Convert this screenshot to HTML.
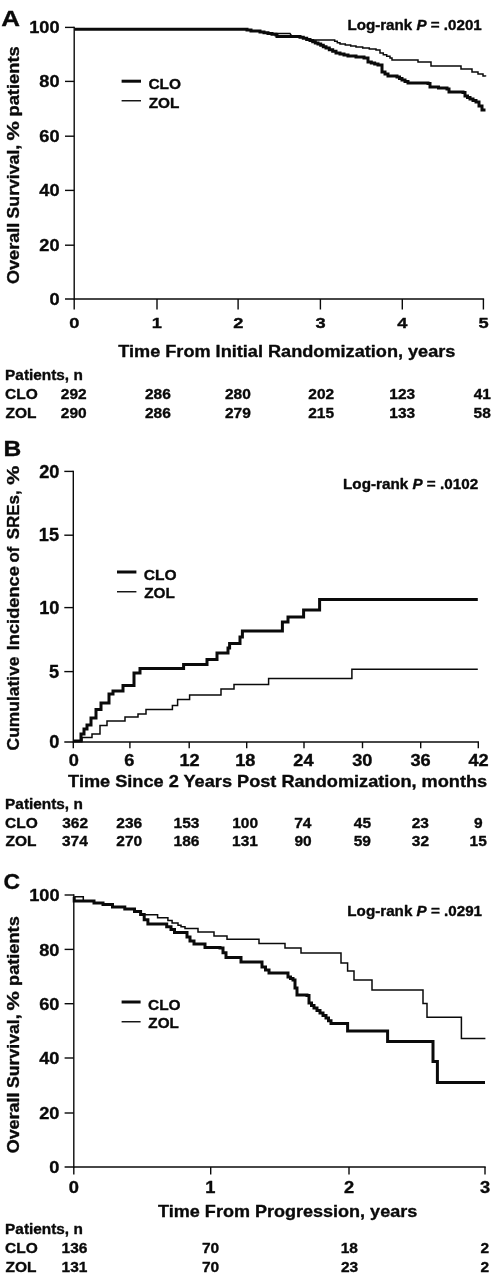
<!DOCTYPE html>
<html><head><meta charset="utf-8"><title>Figure</title>
<style>
html,body{margin:0;padding:0;background:#fff;}
svg{display:block;}
text{font-family:"Liberation Sans", Arial, Helvetica, sans-serif;font-weight:bold;fill:#0a0a0a;stroke:#0a0a0a;stroke-width:0.35;stroke-linejoin:round;}
line,path{stroke:#0a0a0a;}
</style></head><body>
<svg width="495" height="1280" viewBox="0 0 495 1280">
<rect width="495" height="1280" fill="#fff"/>
<line x1="74.20" y1="26.70" x2="74.20" y2="299.70" stroke-width="1.40"/>
<line x1="65.00" y1="299.00" x2="484.10" y2="299.00" stroke-width="1.40"/>
<line x1="65.00" y1="27.40" x2="74.20" y2="27.40" stroke-width="1.40"/>
<line x1="65.00" y1="81.40" x2="74.20" y2="81.40" stroke-width="1.40"/>
<line x1="65.00" y1="136.20" x2="74.20" y2="136.20" stroke-width="1.40"/>
<line x1="65.00" y1="190.40" x2="74.20" y2="190.40" stroke-width="1.40"/>
<line x1="65.00" y1="245.20" x2="74.20" y2="245.20" stroke-width="1.40"/>
<line x1="74.20" y1="299.00" x2="74.20" y2="309.50" stroke-width="1.40"/>
<line x1="157.00" y1="299.00" x2="157.00" y2="309.50" stroke-width="1.40"/>
<line x1="238.10" y1="299.00" x2="238.10" y2="309.50" stroke-width="1.40"/>
<line x1="320.40" y1="299.00" x2="320.40" y2="309.50" stroke-width="1.40"/>
<line x1="402.30" y1="299.00" x2="402.30" y2="309.50" stroke-width="1.40"/>
<line x1="483.40" y1="299.00" x2="483.40" y2="309.50" stroke-width="1.40"/>
<text transform="translate(1.35 26.00) scale(1.1946 1)" font-size="21.74">A</text>
<text transform="translate(29.22 33.23) scale(1.0617 1)" font-size="17.14">100</text>
<text transform="translate(39.33 87.23) scale(1.0617 1)" font-size="17.14">80</text>
<text transform="translate(39.33 142.03) scale(1.0617 1)" font-size="17.14">60</text>
<text transform="translate(39.33 196.23) scale(1.0617 1)" font-size="17.14">40</text>
<text transform="translate(39.33 251.03) scale(1.0617 1)" font-size="17.14">20</text>
<text transform="translate(49.43 304.83) scale(1.0617 1)" font-size="17.14">0</text>
<text transform="translate(69.32 328.15) scale(1.1861 1)" font-size="15.43">0</text>
<text transform="translate(151.80 328.15) scale(1.1861 1)" font-size="15.43">1</text>
<text transform="translate(233.27 328.15) scale(1.1861 1)" font-size="15.43">2</text>
<text transform="translate(315.61 328.15) scale(1.1861 1)" font-size="15.43">3</text>
<text transform="translate(397.33 328.15) scale(1.1861 1)" font-size="15.43">4</text>
<text transform="translate(478.48 328.15) scale(1.1861 1)" font-size="15.43">5</text>
<text transform="translate(118.22 356.50) scale(1.0704 1)" font-size="16.96">Time From Initial Randomization, years</text>
<text transform="translate(347.41 29.50) scale(1.1017 1)" font-size="13.77">Log-rank <tspan font-style="italic">P</tspan> = .0201</text>
<line x1="121.60" y1="81.20" x2="141.00" y2="81.20" stroke-width="3.00"/>
<line x1="121.60" y1="100.75" x2="141.00" y2="100.75" stroke-width="1.40"/>
<text transform="translate(148.38 88.70) scale(1.0464 1)" font-size="14.78">CLO</text>
<text transform="translate(148.74 107.50) scale(1.0599 1)" font-size="14.49">ZOL</text>
<text transform="translate(5.10 380.00) scale(1.0250 1)" font-size="15.00">Patients, n</text>
<text transform="translate(5.08 399.30) scale(1.0000 1)" font-size="15.50">CLO</text>
<text transform="translate(5.54 417.60) scale(1.0000 1)" font-size="15.50">ZOL</text>
<text transform="translate(60.84 399.30) scale(1.0000 1)" font-size="15.50">292</text>
<text transform="translate(60.84 417.60) scale(1.0000 1)" font-size="15.50">290</text>
<text transform="translate(144.90 399.30) scale(1.0000 1)" font-size="15.50">286</text>
<text transform="translate(144.90 417.60) scale(1.0000 1)" font-size="15.50">286</text>
<text transform="translate(224.99 399.30) scale(1.0000 1)" font-size="15.50">280</text>
<text transform="translate(224.95 417.60) scale(1.0000 1)" font-size="15.50">279</text>
<text transform="translate(308.28 399.30) scale(1.0000 1)" font-size="15.50">202</text>
<text transform="translate(308.17 417.60) scale(1.0000 1)" font-size="15.50">215</text>
<text transform="translate(389.30 399.30) scale(1.0000 1)" font-size="15.50">123</text>
<text transform="translate(389.30 417.60) scale(1.0000 1)" font-size="15.50">133</text>
<text transform="translate(473.67 399.30) scale(1.0000 1)" font-size="15.50">41</text>
<text transform="translate(473.60 417.60) scale(1.0000 1)" font-size="15.50">58</text>
<text transform="translate(19.20 284.02) rotate(-90) scale(1.0682 1)" font-size="16.96">Overall</text>
<text transform="translate(19.20 218.43) rotate(-90) scale(1.0427 1)" font-size="16.96">Survival,</text>
<text transform="translate(19.20 140.54) rotate(-90) scale(1.2848 1)" font-size="16.96">%</text>
<text transform="translate(19.20 116.49) rotate(-90) scale(1.0799 1)" font-size="16.96">patients</text>
<path d="M74.4,29.3 H243.0 V29.3 H247.0 V30.1 H251.0 V31.0 H260.0 V32.0 H264.0 V32.8 H268.0 V33.5 H272.0 V34.2 H276.0 V35.0 H277.0 V36.4 H300.0 V37.2 H303.3 V38.3 H306.7 V39.5 H310.0 V40.6 H312.7 V41.7 H315.3 V42.9 H318.0 V44.0 H320.7 V45.3 H323.3 V46.7 H326.0 V48.0 H329.3 V49.7 H332.7 V51.3 H336.0 V53.0 H340.0 V54.0 H344.0 V55.0 H348.0 V56.0 H356.0 V57.0 H364.0 V58.0 H368.0 V62.0 H371.3 V63.0 H374.7 V64.0 H378.0 V65.0 H382.0 V72.0 H385.0 V74.0 H388.0 V76.0 H397.0 V77.0 H399.5 V78.5 H402.0 V80.0 H405.0 V81.5 H408.0 V83.0 H428.0 V83.4 H430.0 V87.0 H438.5 V88.0 H447.0 V89.0 H449.0 V92.0 H463.0 V92.5 H465.0 V96.0 H467.5 V97.5 H470.0 V99.0 H473.0 V100.5 H476.0 V102.0 H479.0 V106.0 H482.0 V110.0 H484.0 V111.6" stroke-width="3.00" stroke-linejoin="miter" fill="none"/>
<path d="M268,33.5 H290 L292,36.5" stroke-width="1.50" stroke-linejoin="miter" fill="none"/>
<path d="M310.0,40.0 H332.0 V40.0 H334.7 V41.3 H337.3 V42.7 H340.0 V44.0 H345.3 V45.0 H350.7 V46.0 H356.0 V47.0 H362.7 V48.0 H369.3 V49.0 H376.0 V50.0 H380.0 V53.0 H383.3 V54.7 H386.7 V56.3 H390.0 V58.0 H392.0 V60.0 H418.0 V60.0 H418.0 V62.0 H431.0 V62.0 H431.0 V66.0 H461.0 V66.0 H461.0 V69.0 H472.0 V69.0 H472.0 V72.0 H478.0 V72.0 H478.0 V74.0 H483.0 V74.0 H483.0 V76.0 H485.5 V76.6" stroke-width="1.50" stroke-linejoin="miter" fill="none"/>
<line x1="73.30" y1="470.70" x2="73.30" y2="742.70" stroke-width="1.40"/>
<line x1="64.30" y1="742.00" x2="479.00" y2="742.00" stroke-width="1.40"/>
<line x1="64.30" y1="471.40" x2="73.30" y2="471.40" stroke-width="1.40"/>
<line x1="64.30" y1="535.20" x2="73.30" y2="535.20" stroke-width="1.40"/>
<line x1="64.30" y1="607.60" x2="73.30" y2="607.60" stroke-width="1.40"/>
<line x1="64.30" y1="671.60" x2="73.30" y2="671.60" stroke-width="1.40"/>
<line x1="73.30" y1="742.00" x2="73.30" y2="748.20" stroke-width="1.40"/>
<line x1="129.90" y1="742.00" x2="129.90" y2="748.20" stroke-width="1.40"/>
<line x1="189.20" y1="742.00" x2="189.20" y2="748.20" stroke-width="1.40"/>
<line x1="246.70" y1="742.00" x2="246.70" y2="748.20" stroke-width="1.40"/>
<line x1="304.00" y1="742.00" x2="304.00" y2="748.20" stroke-width="1.40"/>
<line x1="362.50" y1="742.00" x2="362.50" y2="748.20" stroke-width="1.40"/>
<line x1="420.70" y1="742.00" x2="420.70" y2="748.20" stroke-width="1.40"/>
<line x1="478.30" y1="742.00" x2="478.30" y2="748.20" stroke-width="1.40"/>
<text transform="translate(3.40 456.00) scale(1.1237 1)" font-size="21.88">B</text>
<text transform="translate(39.13 477.62) scale(1.0358 1)" font-size="17.57">20</text>
<text transform="translate(38.85 541.42) scale(1.0358 1)" font-size="17.57">15</text>
<text transform="translate(39.13 613.82) scale(1.0358 1)" font-size="17.57">10</text>
<text transform="translate(48.95 677.82) scale(1.0358 1)" font-size="17.57">5</text>
<text transform="translate(49.23 748.22) scale(1.0358 1)" font-size="17.57">0</text>
<text transform="translate(68.65 765.74) scale(1.1175 1)" font-size="16.29">0</text>
<text transform="translate(124.25 765.74) scale(1.1175 1)" font-size="16.29">6</text>
<text transform="translate(179.42 765.74) scale(1.1175 1)" font-size="16.29">12</text>
<text transform="translate(235.13 765.74) scale(1.1175 1)" font-size="16.29">18</text>
<text transform="translate(293.33 765.74) scale(1.1175 1)" font-size="16.29">24</text>
<text transform="translate(352.24 765.74) scale(1.1175 1)" font-size="16.29">30</text>
<text transform="translate(410.49 765.74) scale(1.1175 1)" font-size="16.29">36</text>
<text transform="translate(468.43 765.74) scale(1.1175 1)" font-size="16.29">42</text>
<text transform="translate(68.12 786.70) scale(1.0901 1)" font-size="16.67">Time Since 2 Years Post Randomization, months</text>
<text transform="translate(343.01 489.40) scale(1.0746 1)" font-size="14.20">Log-rank <tspan font-style="italic">P</tspan> = .0102</text>
<line x1="117.00" y1="572.00" x2="136.40" y2="572.00" stroke-width="3.00"/>
<line x1="117.00" y1="591.75" x2="136.40" y2="591.75" stroke-width="1.40"/>
<text transform="translate(143.78 579.70) scale(1.0229 1)" font-size="15.22">CLO</text>
<text transform="translate(144.14 598.30) scale(1.0290 1)" font-size="14.93">ZOL</text>
<text transform="translate(5.10 809.30) scale(1.0250 1)" font-size="15.00">Patients, n</text>
<text transform="translate(5.08 828.30) scale(1.0000 1)" font-size="15.50">CLO</text>
<text transform="translate(5.54 846.20) scale(1.0000 1)" font-size="15.50">ZOL</text>
<text transform="translate(62.21 828.30) scale(1.0000 1)" font-size="15.50">362</text>
<text transform="translate(61.94 846.20) scale(1.0000 1)" font-size="15.50">374</text>
<text transform="translate(116.30 828.30) scale(1.0000 1)" font-size="15.50">236</text>
<text transform="translate(116.34 846.20) scale(1.0000 1)" font-size="15.50">270</text>
<text transform="translate(173.60 828.30) scale(1.0000 1)" font-size="15.50">153</text>
<text transform="translate(173.60 846.20) scale(1.0000 1)" font-size="15.50">186</text>
<text transform="translate(232.24 828.30) scale(1.0000 1)" font-size="15.50">100</text>
<text transform="translate(232.12 846.20) scale(1.0000 1)" font-size="15.50">131</text>
<text transform="translate(294.13 828.30) scale(1.0000 1)" font-size="15.50">74</text>
<text transform="translate(294.44 846.20) scale(1.0000 1)" font-size="15.50">90</text>
<text transform="translate(353.77 828.30) scale(1.0000 1)" font-size="15.50">45</text>
<text transform="translate(353.74 846.20) scale(1.0000 1)" font-size="15.50">59</text>
<text transform="translate(411.70 828.30) scale(1.0000 1)" font-size="15.50">23</text>
<text transform="translate(411.81 846.20) scale(1.0000 1)" font-size="15.50">32</text>
<text transform="translate(474.10 828.30) scale(1.0000 1)" font-size="15.50">9</text>
<text transform="translate(469.53 846.20) scale(1.0000 1)" font-size="15.50">15</text>
<text transform="translate(19.20 750.40) rotate(-90) scale(1.0286 1)" font-size="16.96">Cumulative</text>
<text transform="translate(19.20 650.29) rotate(-90) scale(1.0775 1)" font-size="16.96">Incidence</text>
<text transform="translate(19.20 562.47) rotate(-90) scale(0.9840 1)" font-size="16.96">of</text>
<text transform="translate(19.20 539.31) rotate(-90) scale(0.9984 1)" font-size="16.96">SREs,</text>
<text transform="translate(19.20 484.74) rotate(-90) scale(1.2708 1)" font-size="16.96">%</text>
<path d="M73.3,741 H81 V734 H84 V729 H87 V725 H91 V718 H96 V709.4 H101 V703 H109 V694 H113 V691 H123 V685.6 H134 V673 H140 V668.5 H183.6 V664.4 H207 V659.4 H217 V653 H228 V648 H229.6 V643.6 H240 V637 H242.4 V631 H282.4 V622 H288 V617 H303.6 V610 H319.6 V599.6 H477.8" stroke-width="3.00" stroke-linejoin="miter" fill="none"/>
<path d="M73.3,741 H82 V737.6 H92 V734 H100 V725.6 H107 V721 H125 V717 H138 V714 H146 V709.5 H172.4 V705.6 H177.6 V699.6 H189.6 V695 H221 V689 H234 V684.6 H268.6 V678.4 H351.9 V669.2 H477.8" stroke-width="1.50" stroke-linejoin="miter" fill="none"/>
<line x1="73.80" y1="894.30" x2="73.80" y2="1167.70" stroke-width="1.40"/>
<line x1="64.60" y1="1167.00" x2="485.70" y2="1167.00" stroke-width="1.40"/>
<line x1="64.60" y1="895.00" x2="73.80" y2="895.00" stroke-width="1.40"/>
<line x1="64.60" y1="949.40" x2="73.80" y2="949.40" stroke-width="1.40"/>
<line x1="64.60" y1="1003.70" x2="73.80" y2="1003.70" stroke-width="1.40"/>
<line x1="64.60" y1="1058.00" x2="73.80" y2="1058.00" stroke-width="1.40"/>
<line x1="64.60" y1="1113.00" x2="73.80" y2="1113.00" stroke-width="1.40"/>
<line x1="73.80" y1="1167.00" x2="73.80" y2="1174.60" stroke-width="1.40"/>
<line x1="210.70" y1="1167.00" x2="210.70" y2="1174.60" stroke-width="1.40"/>
<line x1="349.00" y1="1167.00" x2="349.00" y2="1174.60" stroke-width="1.40"/>
<line x1="485.00" y1="1167.00" x2="485.00" y2="1174.60" stroke-width="1.40"/>
<text transform="translate(3.48 889.10) scale(1.0065 1)" font-size="22.75">C</text>
<text transform="translate(29.13 901.13) scale(1.0529 1)" font-size="17.29">100</text>
<text transform="translate(39.23 955.53) scale(1.0529 1)" font-size="17.29">80</text>
<text transform="translate(39.23 1009.83) scale(1.0529 1)" font-size="17.29">60</text>
<text transform="translate(39.23 1064.13) scale(1.0529 1)" font-size="17.29">40</text>
<text transform="translate(39.23 1119.13) scale(1.0529 1)" font-size="17.29">20</text>
<text transform="translate(49.33 1173.13) scale(1.0529 1)" font-size="17.29">0</text>
<text transform="translate(68.72 1193.14) scale(1.1645 1)" font-size="15.71">0</text>
<text transform="translate(205.30 1193.14) scale(1.1645 1)" font-size="15.71">1</text>
<text transform="translate(343.97 1193.14) scale(1.1645 1)" font-size="15.71">2</text>
<text transform="translate(480.01 1193.14) scale(1.1645 1)" font-size="15.71">3</text>
<text transform="translate(158.12 1216.80) scale(1.0730 1)" font-size="16.81">Time From Progression, years</text>
<text transform="translate(347.31 916.10) scale(1.1042 1)" font-size="13.77">Log-rank <tspan font-style="italic">P</tspan> = .0291</text>
<line x1="121.60" y1="1002.00" x2="140.60" y2="1002.00" stroke-width="3.00"/>
<line x1="121.60" y1="1021.75" x2="140.60" y2="1021.75" stroke-width="1.40"/>
<text transform="translate(147.98 1009.70) scale(1.0165 1)" font-size="15.22">CLO</text>
<text transform="translate(148.34 1028.30) scale(1.0221 1)" font-size="14.93">ZOL</text>
<text transform="translate(5.10 1234.00) scale(1.0250 1)" font-size="15.00">Patients, n</text>
<text transform="translate(5.08 1253.40) scale(1.0000 1)" font-size="15.50">CLO</text>
<text transform="translate(5.54 1271.80) scale(1.0000 1)" font-size="15.50">ZOL</text>
<text transform="translate(61.60 1253.40) scale(1.0000 1)" font-size="15.50">136</text>
<text transform="translate(61.53 1271.80) scale(1.0000 1)" font-size="15.50">131</text>
<text transform="translate(201.90 1253.40) scale(1.0000 1)" font-size="15.50">70</text>
<text transform="translate(201.90 1271.80) scale(1.0000 1)" font-size="15.50">70</text>
<text transform="translate(340.67 1253.40) scale(1.0000 1)" font-size="15.50">18</text>
<text transform="translate(340.90 1271.80) scale(1.0000 1)" font-size="15.50">23</text>
<text transform="translate(480.59 1253.40) scale(1.0000 1)" font-size="15.50">2</text>
<text transform="translate(480.59 1271.80) scale(1.0000 1)" font-size="15.50">2</text>
<text transform="translate(19.20 1153.32) rotate(-90) scale(1.0592 1)" font-size="16.96">Overall</text>
<text transform="translate(19.20 1087.93) rotate(-90) scale(1.0412 1)" font-size="16.96">Survival,</text>
<text transform="translate(19.20 1010.54) rotate(-90) scale(1.2848 1)" font-size="16.96">%</text>
<text transform="translate(19.20 985.98) rotate(-90) scale(1.0736 1)" font-size="16.96">patients</text>
<path d="M74.2,896.8 H74.2 V900.9 H94.0 V900.9 H94.0 V903.0 H103.0 V903.0 H103.0 V904.5 H112.5 V904.5 H112.5 V907.0 H124.8 V907.0 H124.8 V909.0 H134.5 V909.0 H134.5 V911.4 H140.6 V911.4 H140.6 V914.4 H144.2 V914.4 H144.2 V919.8 H147.9 V919.8 H147.9 V924.0 H166.7 V924.0 H166.7 V926.8 H171.0 V926.8 H171.0 V929.5 H174.5 V929.5 H174.5 V932.4 H185.0 V932.4 H187.0 V937.0 H190.0 V941.0 H194.0 V944.0 H203.0 V944.0 H205.0 V947.6 H220.0 V948.0 H223.0 V952.8 H226.0 V957.6 H241.0 V958.0 H241.0 V962.0 H258.0 V962.0 H262.0 V967.0 H265.5 V970.0 H269.0 V973.0 H285.0 V973.0 H288.0 V977.0 H290.5 V978.5 H293.0 V980.0 H295.0 V988.0 H297.0 V995.0 H307.0 V995.5 H309.0 V1003.0 H311.5 V1005.5 H314.0 V1008.0 H317.0 V1010.5 H320.0 V1013.0 H323.0 V1015.5 H326.0 V1018.0 H328.5 V1020.8 H331.0 V1023.6 H347.6 V1024.0 H347.6 V1031.0 H387.6 V1031.0 H387.6 V1041.6 H433.0 V1041.8 H433.0 V1061.6 H437.4 V1061.6 H437.4 V1082.6 H485.0 V1082.6" stroke-width="3.00" stroke-linejoin="miter" fill="none"/>
<path d="M74.2,896.8 H83.3 V900.5" stroke-width="1.50" stroke-linejoin="miter" fill="none"/>
<path d="M143,914.8 H157.6 V917.8 H167.9 V920.5 H172.1 V923.1 H178 V925.3 H181 V926.8 H185 V928.6 H198 V932 H214 V936 H227 V939.2 H259 V943.6 H285 V948 H301 V953 H341 V963 H347.6 V971 H354 V980 H372 V990 H423 V1003.5 H427 V1017.2 H461.4 V1038.4 H485.4" stroke-width="1.50" stroke-linejoin="miter" fill="none"/>
</svg>
</body></html>
